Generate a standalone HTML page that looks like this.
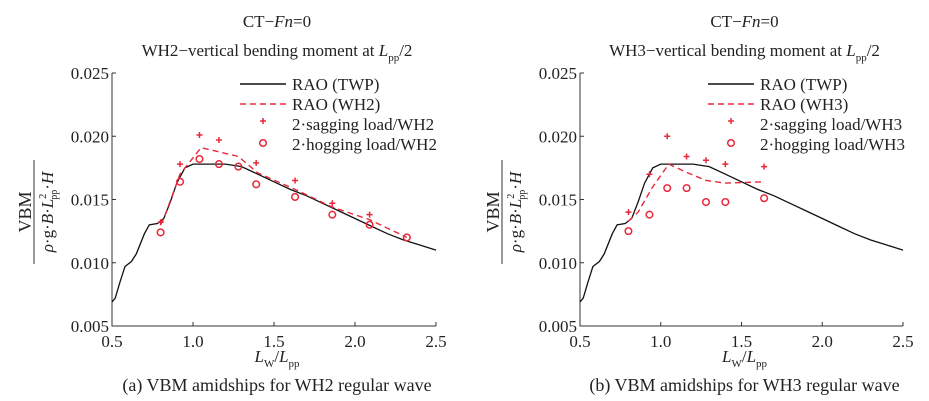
<!DOCTYPE html>
<html><head><meta charset="utf-8"><style>
body{margin:0;background:#fff}
svg{display:block;font-family:"Liberation Serif",serif}
text{fill:#222}
</style></head><body>
<svg id="s" width="929" height="401"></svg>
<script>
const twpX=[0.5,0.52,0.55,0.58,0.62,0.65,0.7,0.73,0.78,0.82,0.86,0.9,0.95,1.0,1.1,1.2,1.3,1.4,1.5,1.6,1.7,1.8,1.9,2.0,2.1,2.2,2.3,2.4,2.5];
const twpY=[0.0069,0.0072,0.0085,0.0097,0.0101,0.0107,0.0123,0.0130,0.0131,0.0135,0.0148,0.0163,0.0175,0.0178,0.0178,0.0178,0.0176,0.0170,0.0164,0.0158,0.0153,0.0147,0.0141,0.0135,0.0129,0.0123,0.0118,0.0114,0.0110];
const wh2X=[0.8,0.82,0.92,1.05,1.28,1.4,1.63,1.86,2.09,2.32];
const wh2Y=[0.0130,0.0135,0.0170,0.0191,0.0184,0.0171,0.0158,0.0144,0.0134,0.0120];
const sag2X=[0.8,0.92,1.04,1.16,1.39,1.63,1.86,2.09];
const sag2Y=[0.0132,0.0178,0.0201,0.0197,0.0179,0.0165,0.0147,0.0138];
const hog2X=[0.8,0.92,1.04,1.16,1.28,1.39,1.63,1.86,2.09,2.32];
const hog2Y=[0.0124,0.0164,0.0182,0.0178,0.0176,0.0162,0.0152,0.0138,0.0130,0.0120];
const wh3X=[0.8,0.86,0.95,1.05,1.15,1.28,1.4,1.64];
const wh3Y=[0.0133,0.0140,0.0160,0.0178,0.0172,0.0165,0.0163,0.0164];
const sag3X=[0.8,0.93,1.04,1.16,1.28,1.4,1.64];
const sag3Y=[0.0140,0.0170,0.0200,0.0184,0.0181,0.0178,0.0176];
const hog3X=[0.8,0.93,1.04,1.16,1.28,1.4,1.64];
const hog3Y=[0.0125,0.0138,0.0159,0.0159,0.0148,0.0148,0.0151];
const xTicks=["0.5","1.0","1.5","2.0","2.5"];
const yTicks=["0.005","0.010","0.015","0.020","0.025"];
const S=document.getElementById('s');const NS='http://www.w3.org/2000/svg';
function el(t,a,p){const e=document.createElementNS(NS,t);for(const k in a)e.setAttribute(k,a[k]);(p||S).appendChild(e);return e;}
function panel(x0,x1,tag,lineX,lineY,sagX,sagY,hogX,hogY,cap){
  const y0=326,y1=73;
  const g=el('g',{});
  
  
  const X=v=>x0+(v-0.5)/2*(x1-x0), Y=v=>y0-(v-0.005)/0.02*(y0-y1);
  const cx=(x0+x1)/2+3;
  let t=el('text',{x:cx,y:27,'text-anchor':'middle','font-size':17},g);t.innerHTML='CT−<tspan font-style="italic">Fn</tspan>=0';
  
  t=el('text',{x:cx,y:56,'text-anchor':'middle','font-size':17},g);t.innerHTML=tag+'−vertical bending moment at <tspan font-style="italic">L</tspan><tspan font-size="11" dy="5">pp</tspan><tspan dy="-5">/2</tspan>';
  
  let a=el('path',{d:`M${x0},${y1}V${y0}H${x1}`,fill:'none',stroke:'#333','stroke-width':1},g);
  
  xTicks.forEach(s=>{const v=+s,px=X(v);el('line',{x1:px,x2:px,y1:y0,y2:y0-4,stroke:'#333'},g);
    const tt=el('text',{x:px,y:y0+21,'text-anchor':'middle','font-size':17},g);tt.textContent=s;
    });
  yTicks.forEach(s=>{const v=+s,py=Y(v);el('line',{x1:x0,x2:x0+4,y1:py,y2:py,stroke:'#333'},g);
    const tt=el('text',{x:x0-3,y:py+6,'text-anchor':'end','font-size':17},g);tt.textContent=s;
    });
  t=el('text',{x:cx,y:362,'text-anchor':'middle','font-size':17},g);t.innerHTML='<tspan font-style="italic">L</tspan><tspan font-size="11" dy="5">W</tspan><tspan dy="-5">/</tspan><tspan font-style="italic">L</tspan><tspan font-size="11" dy="5">pp</tspan>';
  
  t=el('text',{x:cx,y:391,'text-anchor':'middle','font-size':18},g);t.textContent=cap;
  
  const yl=el('g',{transform:`translate(${x0-78},212) rotate(-90)`},g);
  
  el('text',{x:0,y:-3,'text-anchor':'middle','font-size':18},yl).textContent='VBM';
  el('line',{x1:-52,x2:52,y1:0,y2:0,stroke:'#333'},yl);
  t=el('text',{x:0,y:19,'text-anchor':'middle','font-size':17},yl);
  t.innerHTML='<tspan font-style="italic">ρ</tspan>·g·<tspan font-style="italic">B</tspan>·<tspan font-style="italic">L</tspan><tspan font-size="10" dy="-7">2</tspan><tspan font-size="10" dy="11" dx="-6">pp</tspan><tspan dy="-4">·</tspan><tspan font-style="italic">H</tspan>';
  let p=el('path',{d:twpX.map((v,i)=>(i?'L':'M')+X(v).toFixed(1)+','+Y(twpY[i]).toFixed(1)).join(''),fill:'none',stroke:'#111','stroke-width':1.3},g);
  
  p=el('path',{d:lineX.map((v,i)=>(i?'L':'M')+X(v).toFixed(1)+','+Y(lineY[i]).toFixed(1)).join(''),fill:'none',stroke:'#e8283a','stroke-width':1.4,'stroke-dasharray':'6,4'},g);
  
  sagX.forEach((v,i)=>{const px=X(v),py=Y(sagY[i]);const m=el('path',{d:`M${px-3},${py}H${px+3}M${px},${py-3}V${py+3}`,stroke:'#e8283a','stroke-width':1.5},g);
    });
  hogX.forEach((v,i)=>{const m=el('circle',{cx:X(v),cy:Y(hogY[i]),r:3.3,fill:'none',stroke:'#e8283a','stroke-width':1.5},g);
    });
  const lx=x0+128,tx=x0+180;
  const leg=el('g',{},g);
  el('line',{x1:lx,x2:lx+46,y1:84,y2:84,stroke:'#111','stroke-width':1.5},leg);
  el('line',{x1:lx,x2:lx+46,y1:104,y2:104,stroke:'#e8283a','stroke-width':1.4,'stroke-dasharray':'6,4'},leg);
  const mx=lx+23;
  el('path',{d:`M${mx-3},121H${mx+3}M${mx},118V124`,stroke:'#e8283a','stroke-width':1.5},leg);
  el('circle',{cx:mx,cy:143,r:3.3,fill:'none',stroke:'#e8283a','stroke-width':1.5},leg);
  ['RAO (TWP)','RAO ('+tag+')','2·sagging load/'+tag,'2·hogging load/'+tag].forEach((s,i)=>{
    const tt=el('text',{x:tx,y:90+i*20,'font-size':17},leg);tt.textContent=s;
    });
}
panel(112,436,'WH2',wh2X,wh2Y,sag2X,sag2Y,hog2X,hog2Y,'(a) VBM amidships for WH2 regular wave');
panel(580,903,'WH3',wh3X,wh3Y,sag3X,sag3Y,hog3X,hog3Y,'(b) VBM amidships for WH3 regular wave');
</script>
</body></html>
